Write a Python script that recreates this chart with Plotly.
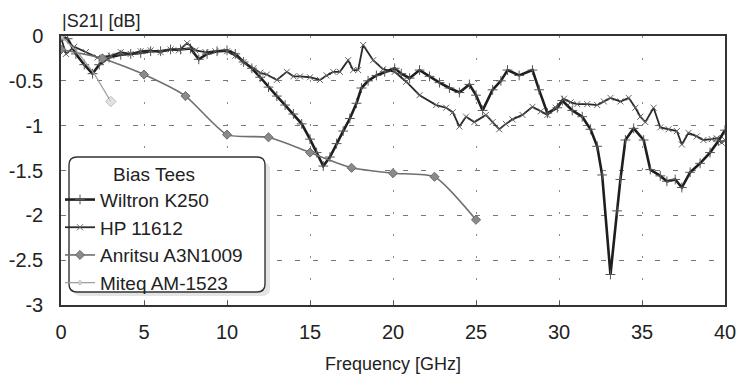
import plotly.graph_objects as go

# ---------------- data ----------------
wiltron_f = [0, 0.4, 0.9, 1.4, 1.9, 2.3, 2.9, 3.6, 4.2, 4.8, 5.4, 6.0, 6.6, 7.2, 7.8, 8.3, 8.8, 9.4,
             10.0, 10.5, 11.0, 11.5, 12.0, 12.5, 13.0, 13.5, 14.0, 14.5, 15.0, 15.4, 15.8, 16.2, 16.6,
             17.0, 17.4, 17.8, 18.1, 18.5, 19.0, 19.5, 20.1, 20.5, 21.0, 21.6, 22.2, 22.8, 23.4, 24.0,
             24.6, 25.0, 25.4, 26.0, 26.5, 26.9, 27.6, 28.4, 28.8, 29.3, 29.9, 30.2, 30.8, 31.4, 31.9,
             32.3, 32.6, 33.1, 33.5, 33.7, 34.0, 34.5, 35.1, 35.5, 36.1, 36.5, 37.0, 37.4, 37.9, 38.5,
             39.1, 39.6, 40.0]
wiltron_db = [0, -0.03, -0.2, -0.32, -0.42, -0.32, -0.24, -0.21, -0.2, -0.19, -0.17, -0.17, -0.15,
              -0.15, -0.14, -0.26, -0.2, -0.17, -0.16, -0.2, -0.29, -0.36, -0.46, -0.57, -0.67, -0.77,
              -0.87, -0.98, -1.15, -1.3, -1.45, -1.35, -1.2, -1.06, -0.92, -0.75, -0.58, -0.5, -0.44,
              -0.4, -0.36, -0.42, -0.47, -0.38, -0.45, -0.52, -0.58, -0.63, -0.54, -0.66, -0.83, -0.6,
              -0.5, -0.38, -0.44, -0.38, -0.6, -0.86, -0.8, -0.72, -0.83, -0.9, -1.04, -1.23, -1.55,
              -2.66, -1.95, -1.6, -1.16, -1.03, -1.16, -1.49, -1.56, -1.62, -1.6, -1.69, -1.52, -1.42,
              -1.3, -1.17, -1.05]

hp_f = [0, 0.3, 0.8, 1.5, 2.2, 3.0, 3.6, 4.2, 4.8, 5.4, 6.0, 6.6, 7.1, 7.6, 8.1, 8.7, 9.3, 10.0,
        10.5, 11.0, 11.6, 12.0, 12.4, 13.0, 13.6, 14.0, 14.4, 15.0, 15.6, 16.0, 16.4, 16.8, 17.3,
        17.6, 17.9, 18.2, 18.8, 19.4, 20.1, 20.8, 21.6, 22.6, 23.2, 23.6, 24.0, 24.4, 24.9, 25.6,
        26.0, 26.4, 26.8, 27.2, 27.8, 28.4, 28.9, 29.3, 29.8, 30.3, 30.7, 31.1, 31.7, 32.3, 32.7,
        33.1, 33.7, 34.2, 34.6, 34.9, 35.2, 35.7, 36.1, 36.6, 37.1, 37.4, 37.8, 38.3, 38.7, 39.2,
        39.5, 39.8, 40.0]
hp_db = [-0.02, -0.2, -0.12, -0.18, -0.24, -0.22, -0.18, -0.2, -0.17, -0.16, -0.18, -0.15, -0.16,
         -0.08, -0.16, -0.18, -0.17, -0.17, -0.22, -0.29, -0.36, -0.41, -0.43, -0.49, -0.4, -0.45,
         -0.45, -0.46, -0.49, -0.44, -0.4, -0.4, -0.27, -0.38, -0.38, -0.1, -0.27, -0.37, -0.4,
         -0.51, -0.66, -0.77, -0.8, -0.85, -1.01, -0.9, -0.96, -0.88, -0.96, -1.04, -0.98, -0.93,
         -0.88, -0.79, -0.84, -0.88, -0.8, -0.7, -0.74, -0.76, -0.76, -0.77, -0.73, -0.69, -0.73,
         -0.69, -0.8, -0.9, -0.96, -0.8, -1.02, -1.04, -1.06, -1.21, -1.08, -1.12, -1.16, -1.15,
         -1.14, -1.19, -1.16]

anritsu_f = [0, 2.5, 5, 7.5, 10, 12.5, 15, 17.5, 20, 22.5, 25]
anritsu_db = [-0.15, -0.25, -0.43, -0.67, -1.1, -1.13, -1.3, -1.47, -1.53, -1.57, -2.05]

miteq_f = [0, 1, 2, 3]
miteq_db = [0, -0.18, -0.42, -0.73]

x_ticks = [0, 5, 10, 15, 20, 25, 30, 35, 40]
y_ticks = [0, -0.5, -1, -1.5, -2, -2.5, -3]
y_tick_text = ["0", "-0.5", "-1", "-1.5", "-2", "-2.5", "-3"]

FONT = "Liberation Sans, Arial, sans-serif"

fig = go.Figure()
fig.add_trace(go.Scatter(
    x=wiltron_f, y=wiltron_db, name="Wiltron K250", mode="lines+markers",
    line=dict(color="#1e1e1e", width=2.6),
    marker=dict(symbol="cross-thin", size=7, line=dict(color="#555", width=1)),
))
fig.add_trace(go.Scatter(
    x=hp_f, y=hp_db, name="HP 11612", mode="lines+markers",
    line=dict(color="#2a2a2a", width=1.8),
    marker=dict(symbol="x-thin", size=6, line=dict(color="#666", width=1)),
))
fig.add_trace(go.Scatter(
    x=anritsu_f, y=anritsu_db, name="Anritsu A3N1009", mode="lines+markers",
    line=dict(color="#6f6f6f", width=1.6, shape="spline", smoothing=0.6),
    marker=dict(symbol="diamond", size=7, color="#8a8a8a", line=dict(color="#6a6a6a", width=1)),
))
fig.add_trace(go.Scatter(
    x=miteq_f, y=miteq_db, name="Miteq AM-1523", mode="lines+markers",
    line=dict(color="#a0a0a0", width=1.3),
    marker=dict(symbol="diamond", size=[7, 0, 0, 8], color="#d8d8d8", line=dict(color="#a0a0a0", width=1)),
))

# plot area in pixels: x 61..725, y 36..305
W, H = 736, 374
L, R, T, B = 61, 725, 36, 305
pw, ph = R - L, B - T

def px(xp):
    return (xp - L) / pw

def py(yp):
    return (B - yp) / ph

def rounded(x0, y0, x1, y1, r):
    rx, ry = r / pw, r / ph
    a, b, c, d = px(x0), py(y1), px(x1), py(y0)  # left, bottom, right, top (paper)
    return (f"M{a+rx},{d} L{c-rx},{d} Q{c},{d} {c},{d-ry} L{c},{b+ry} Q{c},{b} {c-rx},{b} "
            f"L{a+rx},{b} Q{a},{b} {a},{b+ry} L{a},{d-ry} Q{a},{d} {a+rx},{d} Z")

shapes = [
    dict(type="path", xref="paper", yref="paper", path=rounded(73, 162, 270, 296, 8),
         fillcolor="#e4e4e4", line=dict(width=0), layer="above"),
    dict(type="path", xref="paper", yref="paper", path=rounded(69, 157, 265, 292, 8),
         fillcolor="white", line=dict(color="#333", width=1.4), layer="above"),
]

fig.update_layout(
    width=W, height=H,
    margin=dict(l=L, r=W - R, t=T, b=H - B, pad=0, autoexpand=False),
    paper_bgcolor="white", plot_bgcolor="white",
    font=dict(family=FONT, size=19, color="#222"),
    shapes=shapes,
    showlegend=True,
    legend=dict(
        x=px(60), y=py(156), xanchor="left", yanchor="top",
        bgcolor="rgba(0,0,0,0)", borderwidth=0,
        font=dict(family=FONT, size=19, color="#222"),
        title=dict(text="Bias Tees", side="top center", font=dict(family=FONT, size=19, color="#222")),
        itemwidth=30, tracegroupgap=0,
    ),
    annotations=[dict(
        text="|S21| [dB]", xref="paper", yref="paper", x=px(60), y=py(21),
        xanchor="left", yanchor="middle", showarrow=False,
        font=dict(family=FONT, size=18, color="#222"),
    )],
)

fig.update_xaxes(
    range=[0, 40], tickvals=x_ticks, ticktext=[str(v) for v in x_ticks],
    showline=True, linecolor="#333", linewidth=1.5, mirror=True,
    ticks="inside", ticklen=4, tickcolor="#555",
    showgrid=True, gridcolor="#888", gridwidth=1, griddash="2px,20px",
    zeroline=False, ticklabelstandoff=8, automargin=False, ticklabeloverflow="allow",
    title=dict(text="Frequency [GHz]", font=dict(family=FONT, size=18, color="#222"), standoff=17),
    tickfont=dict(family=FONT, size=20, color="#222"),
)
fig.update_yaxes(
    range=[-3, 0], tickvals=y_ticks, ticktext=y_tick_text,
    showline=True, linecolor="#333", linewidth=1.5, mirror=True,
    ticks="", showgrid=True, gridcolor="#777", gridwidth=1, griddash="5px,13px",
    zeroline=False, ticklabelstandoff=12, automargin=False, ticklabeloverflow="allow",
    tickfont=dict(family=FONT, size=20, color="#222"),
)

fig.write_html("out.html")
